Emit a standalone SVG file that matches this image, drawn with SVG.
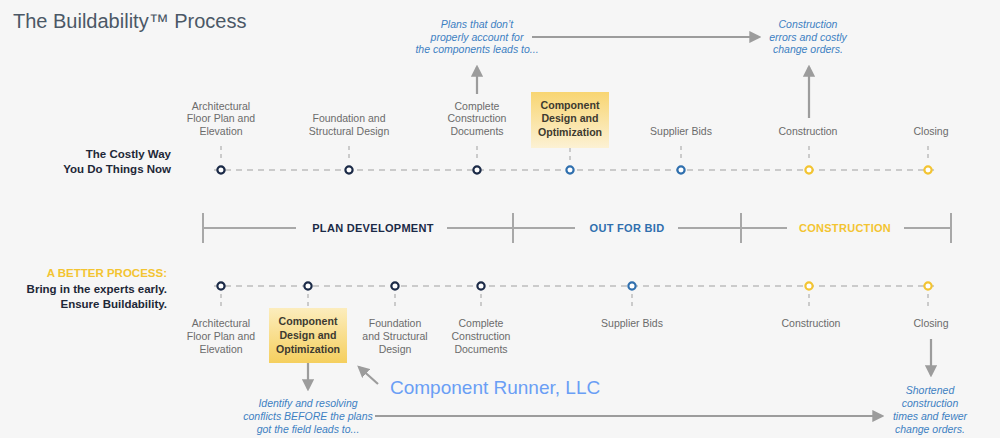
<svg xmlns="http://www.w3.org/2000/svg" width="1000" height="438" viewBox="0 0 1000 438">
<defs>
<style>
text{font-family:"Liberation Sans",Arial,sans-serif}
.lbl{font-size:10.5px;fill:#6b6b6b;text-anchor:middle}
.box{font-size:10.6px;font-weight:bold;fill:#3d3a30;text-anchor:middle}
.it{font-size:10.5px;font-style:italic;fill:#3d80c2;text-anchor:middle}
.side{font-size:11.5px;font-weight:bold;fill:#1e2838;text-anchor:end}
.phase{font-size:11px;font-weight:bold;text-anchor:middle;letter-spacing:0.3px}
.dash{stroke:#bdbdbd;stroke-width:1.5;stroke-dasharray:6 5;fill:none}
.tick{stroke:#bdbdbd;stroke-width:1.5;stroke-dasharray:4 4;fill:none}
.br{stroke:#a8a8a8;stroke-width:2;fill:none}
.arr{stroke:#9c9c9c;stroke-width:2.2;fill:none}
.c{fill:#fff;stroke-width:2.2}
.navy{stroke:#1b2a47}
.blue{stroke:#2f6fae}
.yel{stroke:#f3c431}
</style>
<marker id="ah" viewBox="0 0 10 10" refX="8" refY="5" markerWidth="5.5" markerHeight="5.5" orient="auto" markerUnits="strokeWidth">
<path d="M0,0 L10,5 L0,10 z" fill="#9c9c9c"/>
</marker>
<linearGradient id="gTop" x1="0" y1="0" x2="0" y2="1">
<stop offset="0" stop-color="#f8d572"/>
<stop offset="1" stop-color="#fcf1d4"/>
</linearGradient>
<linearGradient id="gBot" x1="0" y1="0" x2="0" y2="1">
<stop offset="0" stop-color="#fcedbd"/>
<stop offset="1" stop-color="#f5cf5e"/>
</linearGradient>
</defs>
<rect width="1000" height="438" fill="#f6f6f6"/>
<text x="13" y="28" style="font-size:20px;fill:#4b5866">The Buildability™ Process</text>

<!-- side labels -->
<g id="costly-way">
<text class="side" x="171" y="158">The Costly Way</text>
<text class="side" x="171" y="173">You Do Things Now</text>
</g>
<g id="better-process">
<text class="side" x="167" y="277" style="fill:#f3c431">A BETTER PROCESS:</text>
<text class="side" x="167" y="293">Bring in the experts early.</text>
<text class="side" x="167" y="308">Ensure Buildability.</text>
</g>

<!-- connectors -->
<g id="connectors">
<line class="dash" x1="214" y1="170" x2="934" y2="170"/>
<line class="dash" x1="214" y1="286" x2="934" y2="286"/>
<g id="ticks-top">
<line class="tick" x1="221" y1="146" x2="221" y2="162"/>
<line class="tick" x1="349" y1="146" x2="349" y2="162"/>
<line class="tick" x1="477" y1="146" x2="477" y2="162"/>
<line class="tick" x1="570" y1="148" x2="570" y2="162"/>
<line class="tick" x1="681" y1="146" x2="681" y2="162"/>
<line class="tick" x1="809" y1="146" x2="809" y2="162"/>
<line class="tick" x1="928" y1="146" x2="928" y2="162"/>
</g>
<g id="ticks-bottom">
<line class="tick" x1="221" y1="294" x2="221" y2="310"/>
<line class="tick" x1="308" y1="294" x2="308" y2="308"/>
<line class="tick" x1="395" y1="294" x2="395" y2="310"/>
<line class="tick" x1="481" y1="294" x2="481" y2="310"/>
<line class="tick" x1="632" y1="294" x2="632" y2="310"/>
<line class="tick" x1="809" y1="294" x2="809" y2="310"/>
<line class="tick" x1="928" y1="294" x2="928" y2="310"/>
</g>
<g id="bracket">
<line class="br" x1="203" y1="228" x2="296" y2="228"/>
<line class="br" x1="447" y1="228" x2="575" y2="228"/>
<line class="br" x1="678" y1="228" x2="787" y2="228"/>
<line class="br" x1="904" y1="228" x2="951" y2="228"/>
<line class="br" x1="203" y1="213" x2="203" y2="243"/>
<line class="br" x1="513" y1="213" x2="513" y2="243"/>
<line class="br" x1="741" y1="213" x2="741" y2="243"/>
<line class="br" x1="951" y1="213" x2="951" y2="243"/>
</g>
<line class="arr" x1="477" y1="94" x2="477" y2="67" marker-end="url(#ah)"/>
<line class="arr" x1="532" y1="37" x2="759" y2="37" marker-end="url(#ah)"/>
<line class="arr" x1="809" y1="118" x2="809" y2="67" marker-end="url(#ah)"/>
<line class="arr" x1="308" y1="363" x2="308" y2="389" marker-end="url(#ah)"/>
<line class="arr" x1="375" y1="416" x2="882" y2="416" marker-end="url(#ah)"/>
<line class="arr" x1="931" y1="339" x2="931" y2="375" marker-end="url(#ah)"/>
<line class="arr" x1="378" y1="384" x2="359" y2="367" marker-end="url(#ah)"/>
</g>

<g id="phases">
<text class="phase" x="373" y="232" fill="#1b2a47">PLAN DEVELOPMENT</text>
<text class="phase" x="627" y="232" fill="#2f6fae">OUT FOR BID</text>
<text class="phase" x="845" y="232" fill="#f3c431">CONSTRUCTION</text>
</g>

<!-- top row nodes -->
<g id="t-arch"><circle class="c navy" cx="221" cy="170" r="3.6"/>
<text class="lbl" x="221" y="110">Architectural</text><text class="lbl" x="221" y="122">Floor Plan and</text><text class="lbl" x="221" y="135">Elevation</text></g>
<g id="t-found"><circle class="c navy" cx="349" cy="170" r="3.6"/>
<text class="lbl" x="349" y="122">Foundation and</text><text class="lbl" x="349" y="135">Structural Design</text></g>
<g id="t-docs"><circle class="c navy" cx="477" cy="170" r="3.6"/>
<text class="lbl" x="477" y="110">Complete</text><text class="lbl" x="477" y="122">Construction</text><text class="lbl" x="477" y="135">Documents</text></g>
<g id="t-comp"><rect x="531" y="92" width="78" height="56" fill="url(#gTop)"/>
<circle class="c blue" cx="570" cy="170" r="3.6"/>
<text class="box" x="570" y="109">Component</text><text class="box" x="570" y="122">Design and</text><text class="box" x="570" y="136">Optimization</text></g>
<g id="t-bids"><circle class="c blue" cx="681" cy="170" r="3.6"/>
<text class="lbl" x="681" y="135">Supplier Bids</text></g>
<g id="t-constr"><circle class="c yel" cx="809" cy="170" r="3.6"/>
<text class="lbl" x="808" y="135">Construction</text></g>
<g id="t-close"><circle class="c yel" cx="928" cy="170" r="3.6"/>
<text class="lbl" x="931" y="135">Closing</text></g>
<g id="t-note1"><text class="it" x="477" y="28">Plans that don’t</text><text class="it" x="477" y="41">properly account for</text><text class="it" x="477" y="53">the components leads to...</text></g>
<g id="t-note2"><text class="it" x="808" y="28">Construction</text><text class="it" x="808" y="41">errors and costly</text><text class="it" x="808" y="53">change orders.</text></g>

<!-- bottom row nodes -->
<g id="b-arch"><circle class="c navy" cx="221" cy="286" r="3.6"/>
<text class="lbl" x="221" y="327">Architectural</text><text class="lbl" x="221" y="340">Floor Plan and</text><text class="lbl" x="221" y="353">Elevation</text></g>
<g id="b-comp"><rect x="269" y="308" width="78" height="55" fill="url(#gBot)"/>
<circle class="c navy" cx="308" cy="286" r="3.6"/>
<text class="box" x="308" y="325">Component</text><text class="box" x="308" y="339">Design and</text><text class="box" x="308" y="353">Optimization</text></g>
<g id="b-found"><circle class="c navy" cx="395" cy="286" r="3.6"/>
<text class="lbl" x="395" y="327">Foundation</text><text class="lbl" x="395" y="340">and Structural</text><text class="lbl" x="395" y="353">Design</text></g>
<g id="b-docs"><circle class="c navy" cx="481" cy="286" r="3.6"/>
<text class="lbl" x="481" y="327">Complete</text><text class="lbl" x="481" y="340">Construction</text><text class="lbl" x="481" y="353">Documents</text></g>
<g id="b-bids"><circle class="c blue" cx="632" cy="286" r="3.6"/>
<text class="lbl" x="632" y="327">Supplier Bids</text></g>
<g id="b-constr"><circle class="c yel" cx="809" cy="286" r="3.6"/>
<text class="lbl" x="811" y="327">Construction</text></g>
<g id="b-close"><circle class="c yel" cx="928" cy="286" r="3.6"/>
<text class="lbl" x="931" y="327">Closing</text></g>
<g id="b-note1"><text class="it" x="308" y="407">Identify and resolving</text><text class="it" x="308" y="420">conflicts BEFORE the plans</text><text class="it" x="308" y="433">got the field leads to...</text></g>
<g id="b-note2"><text class="it" x="930" y="394">Shortened</text><text class="it" x="930" y="407">construction</text><text class="it" x="930" y="420">times and fewer</text><text class="it" x="930" y="433">change orders.</text></g>

<g id="runner"><text x="390" y="394" style="font-size:19px;fill:#6a9ef5">Component Runner, LLC</text></g>
</svg>
